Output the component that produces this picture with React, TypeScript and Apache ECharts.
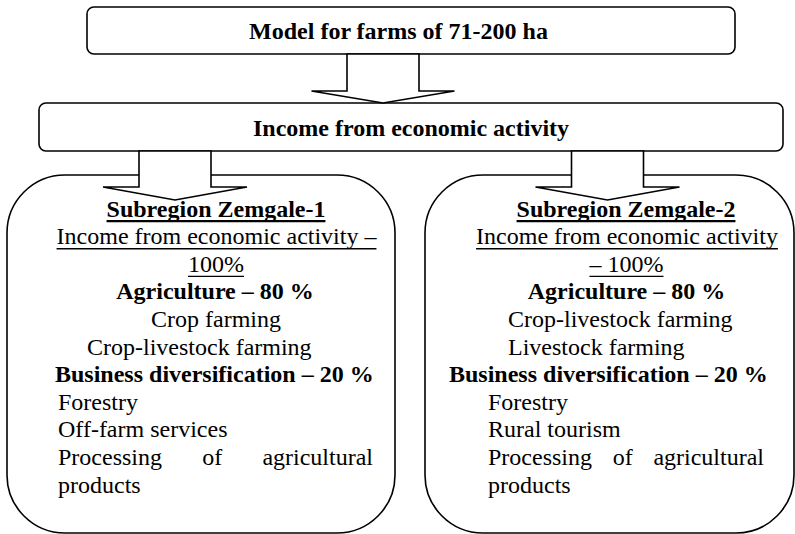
import React, { useEffect, useRef } from 'react';
import * as echarts from 'echarts';

// ---- content ----
const topTitle = 'Model for farms of 71-200 ha';
const midTitle = 'Income from economic activity';

const leftLines = [
  'Subregion Zemgale-1',
  'Income from economic activity –',
  '100%',
  'Agriculture – 80 %',
  'Crop farming',
  'Crop-livestock farming',
  'Business diversification – 20 %',
  'Forestry',
  'Off-farm services',
  'Processing of agricultural',
  'products',
];
const rightLines = [
  'Subregion Zemgale-2',
  'Income from economic activity',
  '– 100%',
  'Agriculture – 80 %',
  'Crop-livestock farming',
  'Livestock farming',
  'Business diversification – 20 %',
  'Forestry',
  'Rural tourism',
  'Processing of agricultural',
  'products',
];
// styles: b = bold, u = underline
const leftStyles = ['bu', 'u', 'u', 'b', '', '', 'b', '', '', '', ''];
const rightStyles = ['bu', 'u', 'u', 'b', '', '', 'b', '', '', '', ''];

// ---- layout ----
const FAMILY = "'Liberation Serif', 'Times New Roman', Tinos, 'DejaVu Serif', serif";
const FS = 24;
const DY = 8.1;
const BASE0 = 216.7;
const STEP = 27.6;

type Al = ['c' | 'l', number] | ['j', number, number];
const leftAlign: Al[] = [
  ['c', 216], ['c', 216.5], ['c', 216], ['c', 215], ['c', 216], ['l', 87],
  ['l', 55], ['l', 58], ['l', 58], ['j', 58, 373], ['l', 58],
];
const rightAlign: Al[] = [
  ['c', 626], ['c', 627], ['c', 626.5], ['c', 626.5], ['l', 508], ['l', 508],
  ['l', 449], ['l', 488], ['l', 488], ['j', 488, 764], ['l', 488],
];

let ctx: CanvasRenderingContext2D | null = null;
function measure(text: string, bold: boolean) {
  if (!ctx) ctx = document.createElement('canvas').getContext('2d');
  ctx!.font = `${bold ? 'bold ' : ''}${FS}px ${FAMILY}`;
  return ctx!.measureText(text).width;
}

function textEl(text: string, x: number, baseline: number, bold: boolean, align: string, fill = '#000') {
  return {
    type: 'text',
    z: 10,
    x,
    y: baseline - DY,
    style: {
      text,
      fontFamily: FAMILY,
      fontSize: FS,
      fontWeight: bold ? 'bold' : 'normal',
      fill,
      align,
      verticalAlign: 'middle',
      textAlign: align,
      textVerticalAlign: 'middle',
    },
  };
}

function buildLines(lines: string[], styles: string[], aligns: Al[]) {
  const els: any[] = [];
  lines.forEach((t, i) => {
    const bold = styles[i].includes('b');
    const under = styles[i].includes('u');
    const base = BASE0 + STEP * i;
    const a = aligns[i];
    const w = measure(t, bold);
    let x0 = 0;
    if (a[0] === 'c') {
      els.push(textEl(t, a[1], base, bold, 'center'));
      x0 = a[1] - w / 2;
    } else if (a[0] === 'l') {
      els.push(textEl(t, a[1], base, bold, 'left'));
      x0 = a[1];
    } else {
      const words = t.split(' ');
      const ws = words.map((wd) => measure(wd, bold));
      const total = ws.reduce((s, v) => s + v, 0);
      const gap = (a[2] - a[1] - total) / (words.length - 1);
      let cx = a[1];
      words.forEach((wd, k) => {
        els.push(textEl(wd, cx, base, bold, 'left'));
        cx += ws[k] + gap;
      });
      x0 = a[1];
    }
    if (under) {
      els.push({
        type: 'line',
        z: 10,
        shape: { x1: x0, y1: base + 4.5, x2: x0 + w, y2: base + 4.5 },
        style: { stroke: '#000', lineWidth: bold ? 2.2 : 1.4 },
      });
    }
  });
  return els;
}

function arrow(cx: number, yTop: number, yHead: number, yTip: number, halfShaft: number, halfHead: number) {
  return {
    type: 'polygon',
    z: 5,
    shape: {
      points: [
        [cx - halfShaft, yTop],
        [cx - halfShaft, yHead],
        [cx - halfHead, yHead],
        [cx, yTip],
        [cx + halfHead, yHead],
        [cx + halfShaft, yHead],
        [cx + halfShaft, yTop],
      ],
    },
    style: { fill: '#fff', stroke: '#000', lineWidth: 1.6, lineJoin: 'miter' },
  };
}

function box(x: number, y: number, w: number, h: number, r: number) {
  return {
    type: 'rect',
    z: 1,
    shape: { x, y, width: w, height: h, r },
    style: { fill: '#fff', stroke: '#000', lineWidth: 1.6 },
  };
}

export default function App() {
  const ref = useRef<HTMLDivElement>(null);
  useEffect(() => {
    if (!ref.current) return;
    const chart = echarts.init(ref.current, undefined, { renderer: 'svg' });
    const elements: any[] = [
      box(87, 7, 648, 47, 7),
      box(39, 103, 744, 48, 7),
      box(7, 175, 388, 358, 58),
      box(425, 175, 369, 358, 58),
      arrow(383, 54, 91, 103, 36, 71.5),
      arrow(175, 151, 187, 200, 36, 72),
      arrow(607.5, 151, 187, 200, 36, 72),
      textEl(topTitle, 398.5, 39, true, 'center'),
      textEl(midTitle, 411, 136, true, 'center'),
      ...buildLines(leftLines, leftStyles, leftAlign),
      ...buildLines(rightLines, rightStyles, rightAlign),
    ];
    chart.setOption({
      animation: false,
      backgroundColor: '#fff',
      graphic: { elements },
    });
    return () => chart.dispose();
  }, []);
  return (
    <div
      ref={ref}
      style={{ position: 'fixed', left: 0, top: 0, width: 795, height: 534, background: '#fff' }}
    />
  );
}
